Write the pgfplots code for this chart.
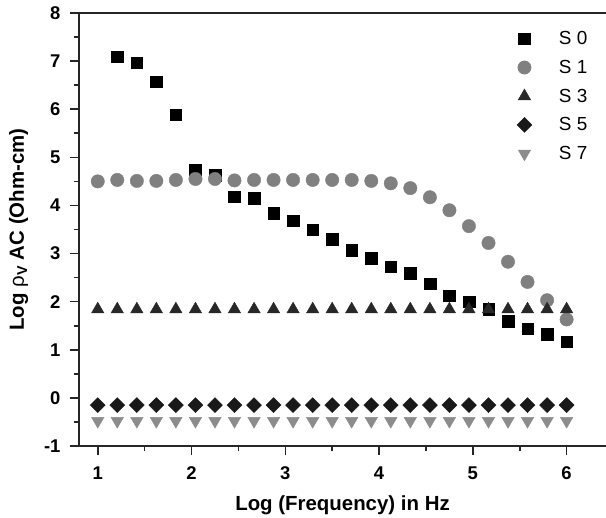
\documentclass[border=0pt]{standalone}
\usepackage{fontspec}
\setmainfont{Liberation Sans}
\usepackage{pgfplots}
\pgfplotsset{compat=1.18}
\definecolor{sone}{RGB}{128,128,128}
\definecolor{sthree}{RGB}{40,40,40}
\definecolor{sfive}{RGB}{25,25,25}
\definecolor{sseven}{RGB}{140,140,140}
\begin{document}
\begin{tikzpicture}
\useasboundingbox (-79bp,-72bp) rectangle (527bp,446bp);
\begin{axis}[
  scale only axis, width=527bp, height=433bp,
  xmin=0.8, xmax=6.42, ymin=-1, ymax=8,
  axis x line*=box, axis y line*=left,
  xtick pos=bottom, ytick pos=left,
  axis line style={line width=1.8bp, black!85, -},
  tick align=outside,
  major tick length=9bp, minor tick length=5bp,
  every tick/.style={line width=1.6bp, black!85},
  xtick={1,2,3,4,5,6}, xticklabels={1,2,3,4,5,6},
  ytick={-1,0,1,2,3,4,5,6,7,8}, yticklabels={-1,0,1,2,3,4,5,6,7,8},
  minor xtick={1.5,2.5,3.5,4.5,5.5},
  minor ytick={-0.5,0.5,1.5,2.5,3.5,4.5,5.5,6.5,7.5},
  tick label style={font=\fontsize{18.5}{21}\selectfont\bfseries},
  xticklabel shift=8bp, yticklabel shift=6bp,
  label style={font=\fontsize{20.5}{24}\selectfont\bfseries},
  xlabel={Log (Frequency) in Hz},
  ylabel={Log {\mdseries ρ}\textsubscript{V} AC (Ohm-cm)},
  xlabel shift=9bp, ylabel shift=9bp,
  legend cell align=left,
  legend style={at={(rel axis cs:0.825,0.967)}, anchor=north west, draw=none, fill=none,
    font=\fontsize{19}{22}\selectfont, row sep=10bp,
    /tikz/every odd column/.append style={column sep=25bp}},
  clip=false,
]
\addplot[only marks, mark=square*, mark size=5.8bp, black] table {
x y
1.208 7.09
1.417 6.97
1.625 6.57
1.833 5.89
2.042 4.74
2.250 4.63
2.458 4.18
2.667 4.15
2.875 3.84
3.083 3.68
3.292 3.50
3.500 3.30
3.708 3.07
3.917 2.90
4.125 2.73
4.333 2.59
4.542 2.37
4.750 2.12
4.958 2.00
5.167 1.84
5.375 1.60
5.583 1.44
5.792 1.33
6.000 1.17
};
\addlegendentry{S 0}
\addplot[only marks, mark=*, mark size=6.7bp, sone] table {
x y
1.000 4.50
1.208 4.53
1.417 4.51
1.625 4.51
1.833 4.53
2.042 4.55
2.250 4.55
2.458 4.52
2.667 4.53
2.875 4.53
3.083 4.53
3.292 4.53
3.500 4.53
3.708 4.53
3.917 4.51
4.125 4.46
4.333 4.36
4.542 4.17
4.750 3.90
4.958 3.57
5.167 3.22
5.375 2.83
5.583 2.41
5.792 2.03
6.000 1.63
};
\addlegendentry{S 1}
\addplot[only marks, mark=triangle*, mark size=7.2bp, sthree] table {
x y
1.000 1.84
1.208 1.84
1.417 1.84
1.625 1.84
1.833 1.84
2.042 1.84
2.250 1.84
2.458 1.84
2.667 1.84
2.875 1.84
3.083 1.84
3.292 1.84
3.500 1.84
3.708 1.84
3.917 1.84
4.125 1.84
4.333 1.84
4.542 1.84
4.750 1.84
4.958 1.84
5.167 1.84
5.375 1.84
5.583 1.84
5.792 1.84
6.000 1.84
};
\addlegendentry{S 3}
\addplot[only marks, mark=square*, mark size=5.3bp, mark options={rotate=45}, sfive] table {
x y
1.000 -0.15
1.208 -0.15
1.417 -0.15
1.625 -0.15
1.833 -0.15
2.042 -0.15
2.250 -0.15
2.458 -0.15
2.667 -0.15
2.875 -0.15
3.083 -0.15
3.292 -0.15
3.500 -0.15
3.708 -0.15
3.917 -0.15
4.125 -0.15
4.333 -0.15
4.542 -0.15
4.750 -0.15
4.958 -0.15
5.167 -0.15
5.375 -0.15
5.583 -0.15
5.792 -0.15
6.000 -0.15
};
\addlegendentry{S 5}
\addplot[only marks, mark=triangle*, mark size=7.2bp, mark options={rotate=180}, sseven] table {
x y
1.000 -0.48
1.208 -0.48
1.417 -0.48
1.625 -0.48
1.833 -0.48
2.042 -0.48
2.250 -0.48
2.458 -0.48
2.667 -0.48
2.875 -0.48
3.083 -0.48
3.292 -0.48
3.500 -0.48
3.708 -0.48
3.917 -0.48
4.125 -0.48
4.333 -0.48
4.542 -0.48
4.750 -0.48
4.958 -0.48
5.167 -0.48
5.375 -0.48
5.583 -0.48
5.792 -0.48
6.000 -0.48
};
\addlegendentry{S 7}
\end{axis}
\end{tikzpicture}
\end{document}
